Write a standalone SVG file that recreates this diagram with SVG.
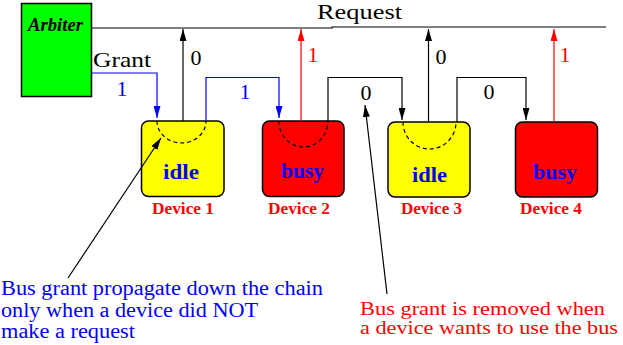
<svg xmlns="http://www.w3.org/2000/svg" width="623" height="345" viewBox="0 0 623 345">
<style>
.t{font-family:"Liberation Serif","Times New Roman","DejaVu Serif",serif;font-size:22px}
.n{font-family:"Liberation Serif","Times New Roman","DejaVu Serif",serif;font-size:20px}
.m{font-family:"Liberation Serif","Times New Roman","DejaVu Serif",serif;font-size:19px}
.dl{font-family:"Liberation Serif","Times New Roman","DejaVu Serif",serif;font-size:16px;font-weight:bold;fill:#ff0000}
.st{font-family:"Liberation Serif","Times New Roman","DejaVu Serif",serif;font-size:21px;font-weight:bold;fill:#0000ff}
.box{stroke:#000;stroke-width:1.5}
.k{stroke:#000;stroke-width:1.2;fill:none}
.b{stroke:#0000ff;stroke-width:1.2;fill:none}
.r{stroke:#ff0000;stroke-width:1.2;fill:none}
.dash{stroke:#000;stroke-width:1.2;fill:none;stroke-dasharray:4 3}
</style>
<defs>
<marker id="ak" viewBox="0 0 12 7" refX="12" refY="3.5" markerWidth="12" markerHeight="7" markerUnits="userSpaceOnUse" orient="auto"><path d="M0,0 L12,3.5 L0,7 z" fill="#000"/></marker>
<marker id="ab" viewBox="0 0 12 7" refX="12" refY="3.5" markerWidth="12" markerHeight="7" markerUnits="userSpaceOnUse" orient="auto"><path d="M0,0 L12,3.5 L0,7 z" fill="#0000ff"/></marker>
<marker id="ar" viewBox="0 0 12 7" refX="12" refY="3.5" markerWidth="12" markerHeight="7" markerUnits="userSpaceOnUse" orient="auto"><path d="M0,0 L12,3.5 L0,7 z" fill="#ff0000"/></marker>
</defs>
<rect width="623" height="345" fill="#fff"/>

<g id="arbiter">
<rect x="21.5" y="3.5" width="70" height="93" fill="#00ff00" stroke="#000" stroke-width="1.5"/>
<text x="28" y="30.5" font-family="Liberation Serif, Times New Roman, DejaVu Serif, serif" font-size="18" font-weight="bold" font-style="italic" textLength="55" lengthAdjust="spacingAndGlyphs">Arbiter</text>
</g>

<g id="device1">
<rect class="box" x="141.5" y="121" width="82.5" height="75.5" rx="7" fill="#ffff00"/>
<path class="dash" d="M157,121 A24.5,22 0 0 0 206,121"/>
<text class="st" x="163" y="179" textLength="36" lengthAdjust="spacingAndGlyphs">idle</text>
<text class="dl" x="152" y="214" textLength="62" lengthAdjust="spacingAndGlyphs">Device 1</text>
</g>

<g id="device2">
<rect class="box" x="262.5" y="121" width="81.5" height="75.5" rx="7" fill="#ff0000"/>
<path class="dash" d="M279,121 A24.5,26 0 0 0 328,121"/>
<text class="st" x="281" y="178" textLength="43" lengthAdjust="spacingAndGlyphs">busy</text>
<text class="dl" x="268" y="214" textLength="62" lengthAdjust="spacingAndGlyphs">Device 2</text>
</g>

<g id="device3">
<rect class="box" x="388" y="122" width="82" height="75" rx="7" fill="#ffff00"/>
<path class="dash" d="M403,122 A26.5,27 0 0 0 456,122"/>
<text class="st" x="412" y="182" textLength="35" lengthAdjust="spacingAndGlyphs">idle</text>
<text class="dl" x="401" y="214" textLength="61" lengthAdjust="spacingAndGlyphs">Device 3</text>
</g>

<g id="device4">
<rect class="box" x="515.5" y="122" width="82" height="75" rx="7" fill="#ff0000"/>
<text class="st" x="533" y="179" textLength="44" lengthAdjust="spacingAndGlyphs">busy</text>
<text class="dl" x="520" y="214" textLength="62" lengthAdjust="spacingAndGlyphs">Device 4</text>
</g>

<g id="connectors">
<polyline class="k" points="92,28 332,28 332,27 606,27"/>
<text class="t" x="317" y="19" textLength="85" lengthAdjust="spacingAndGlyphs">Request</text>

<polyline class="b" points="92,73 157,73 157,118" marker-end="url(#ab)"/>
<text class="t" x="93" y="67" textLength="58" lengthAdjust="spacingAndGlyphs">Grant</text>
<text class="t" x="116.5" y="96" fill="#0000ff">1</text>

<line class="k" x1="183" y1="121" x2="183" y2="29" marker-end="url(#ak)"/>
<text class="t" x="190.5" y="65">0</text>

<polyline class="b" points="206,121 206,77.5 279,77.5 279,118" marker-end="url(#ab)"/>
<text class="t" x="239.5" y="99" fill="#0000ff">1</text>

<line class="r" x1="301" y1="121" x2="301" y2="29" marker-end="url(#ar)"/>
<text class="t" x="307.5" y="62" fill="#ff0000">1</text>

<polyline class="k" points="328,121 328,77.5 402,77.5 402,120" marker-end="url(#ak)"/>
<text class="t" x="360.5" y="100">0</text>

<line class="k" x1="428.5" y1="122" x2="428.5" y2="29" marker-end="url(#ak)"/>
<text class="t" x="435.5" y="64">0</text>

<polyline class="k" points="457,122 457,77.5 526,77.5 526,120" marker-end="url(#ak)"/>
<text class="t" x="483.5" y="99">0</text>

<line class="r" x1="554" y1="122" x2="554" y2="29" marker-end="url(#ar)"/>
<text class="t" x="559.5" y="62" fill="#ff0000">1</text>

<line class="k" x1="68" y1="278" x2="161" y2="138" marker-end="url(#ak)"/>
<line class="k" x1="387" y1="294" x2="365" y2="105" marker-end="url(#ak)"/>
</g>

<g id="notes">
<text class="n" fill="#0000ff"><tspan x="1" y="295" textLength="322" lengthAdjust="spacingAndGlyphs">Bus grant propagate down the chain</tspan><tspan x="1" y="316.5" textLength="257" lengthAdjust="spacingAndGlyphs">only when a device did NOT</tspan><tspan x="1" y="338" textLength="134" lengthAdjust="spacingAndGlyphs">make a request</tspan></text>
<text class="m" fill="#ff0000"><tspan x="360" y="314.5" textLength="245" lengthAdjust="spacingAndGlyphs">Bus grant is removed when</tspan><tspan x="360" y="334" textLength="258" lengthAdjust="spacingAndGlyphs">a device wants to use the bus</tspan></text>
</g>
</svg>
